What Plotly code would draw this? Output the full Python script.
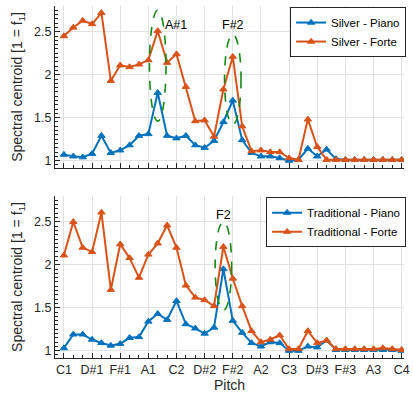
import plotly.graph_objects as go
from plotly.subplots import make_subplots

PITCHES = ["C1", "C#1", "D1", "D#1", "E1", "F1", "F#1", "G1", "G#1", "A1", "A#1", "B1",
           "C2", "C#2", "D2", "D#2", "E2", "F2", "F#2", "G2", "G#2", "A2", "A#2", "B2",
           "C3", "C#3", "D3", "D#3", "E3", "F3", "F#3", "G3", "G#3", "A3", "A#3", "B3",
           "C4"]

silver_piano = [1.07, 1.05, 1.04, 1.08, 1.29, 1.09, 1.12, 1.18, 1.29, 1.31, 1.79, 1.29,
                1.26, 1.29, 1.18, 1.15, 1.23, 1.45, 1.70, 1.24, 1.09, 1.05, 1.05, 1.03,
                1.00, 1.01, 1.14, 1.05, 1.13, 1.02, 1.01, 1.01, 1.01, 1.01, 1.01, 1.01,
                1.01]
silver_forte = [2.45, 2.55, 2.63, 2.59, 2.72, 1.93, 2.11, 2.09, 2.12, 2.17, 2.51, 2.14,
                2.24, 1.86, 1.46, 1.47, 1.28, 1.83, 2.21, 1.40, 1.11, 1.12, 1.10, 1.10,
                1.03, 1.01, 1.48, 1.16, 1.01, 1.01, 1.01, 1.01, 1.01, 1.01, 1.01, 1.01,
                1.01]
trad_piano = [1.03, 1.19, 1.19, 1.13, 1.09, 1.06, 1.08, 1.15, 1.16, 1.34, 1.43, 1.36,
              1.58, 1.31, 1.26, 1.20, 1.27, 1.95, 1.35, 1.21, 1.09, 1.05, 1.10, 1.09,
              1.00, 1.00, 1.05, 1.04, 1.12, 1.01, 1.01, 1.01, 1.01, 1.01, 1.01, 1.01,
              1.00]
trad_forte = [2.11, 2.50, 2.20, 2.15, 2.61, 1.71, 2.24, 2.08, 1.85, 2.12, 2.25, 2.46,
              2.20, 1.76, 1.62, 1.59, 1.52, 2.21, 1.84, 1.52, 1.23, 1.10, 1.13, 1.18,
              1.02, 1.02, 1.23, 1.09, 1.12, 1.02, 1.02, 1.02, 1.02, 1.02, 1.03, 1.02,
              1.01]

TICK_LABELS = ["C1", "D#1", "F#1", "A1", "C2", "D#2", "F#2", "A2", "C3", "D#3", "F#3", "A3", "C4"]
Y_TICKS = [1, 1.5, 2, 2.5]

# highlighted notes: (row, pitch, y_low, y_high, label, label_x_offset)
HIGHLIGHTS = [
    (1, "A#1", 1.46, 2.75, "A#1", 2.0),
    (1, "F#2", 1.42, 2.47, "F#2", 0.0),
    (2, "F2", 1.47, 2.50, "F2", 0.0),
]

BLUE = "#0072BD"
ORANGE = "#D95319"
GREEN = "#138a13"
AX = "#262626"
GRID = "#e2e2e2"
FONT = "Liberation Sans, Arial, sans-serif"

x = list(range(len(PITCHES)))
tickvals = [PITCHES.index(t) for t in TICK_LABELS]

fig = make_subplots(rows=2, cols=1, vertical_spacing=0.08)

series = [
    (1, "Silver - Piano", silver_piano, BLUE, "legend"),
    (1, "Silver - Forte", silver_forte, ORANGE, "legend"),
    (2, "Traditional - Piano", trad_piano, BLUE, "legend2"),
    (2, "Traditional - Forte", trad_forte, ORANGE, "legend2"),
]
for row, name, vals, col, leg in series:
    fig.add_trace(go.Scatter(
        x=x, y=vals, name=name, mode="lines+markers",
        line=dict(color=col, width=2),
        marker=dict(symbol="triangle-up", size=6.5, color=col,
                    line=dict(color=col, width=1)),
        legend=leg,
    ), row=row, col=1)

for row, pitch, ylo, yhi, label, dx in HIGHLIGHTS:
    xi = PITCHES.index(pitch)
    xr = "x" if row == 1 else "x2"
    yr = "y" if row == 1 else "y2"
    fig.add_shape(type="circle", xref=xr, yref=yr,
                  x0=xi - 0.88, x1=xi + 0.88, y0=ylo, y1=yhi,
                  line=dict(color=GREEN, width=1.6, dash="dash"))
    fig.add_annotation(xref=xr, yref=yr, x=xi + dx, y=2.58, text=label,
                       showarrow=False, font=dict(size=12.5, color="#000000", family=FONT))

axis_common = dict(
    showline=True, linecolor=AX, linewidth=1, mirror=False,
    ticks="inside", ticklen=5, tickcolor=AX, tickwidth=1,
    showgrid=True, gridcolor=GRID, gridwidth=1, zeroline=False,
    tickfont=dict(size=12.5, color=AX, family=FONT),
)

for r in (1, 2):
    fig.update_xaxes(
        range=[-0.95, 36.25], tickmode="array", tickvals=tickvals,
        ticktext=TICK_LABELS, showticklabels=(r == 2), ticklabeloverflow="allow",
        minor=dict(ticks="inside", ticklen=3, tickcolor=AX, dtick=1, tick0=0, showgrid=False),
        row=r, col=1, **axis_common)
    fig.update_yaxes(
        range=[0.915, 2.8], tickmode="array", tickvals=Y_TICKS,
        ticktext=["1", "1.5", "2", "2.5"],
        minor=dict(ticks="inside", ticklen=3, tickcolor=AX, dtick=0.05, tick0=0, showgrid=False),
        title=dict(text="Spectral centroid [1 = f<sub>1</sub>]", standoff=8,
                   font=dict(size=14, color=AX, family=FONT)),
        row=r, col=1, **axis_common)

fig.update_xaxes(title=dict(text="Pitch", standoff=4, font=dict(size=14, color=AX, family=FONT)),
                 row=2, col=1)

fig.update_layout(
    width=413, height=395,
    margin=dict(l=55, r=3, t=6, b=37),
    plot_bgcolor="white", paper_bgcolor="white",
    font=dict(family=FONT, color=AX),
    xaxis=dict(domain=[0, 1]), yaxis=dict(domain=[0.54, 1.0]),
    xaxis2=dict(domain=[0, 1]), yaxis2=dict(domain=[0.0, 0.46]),
    legend=dict(x=1.006, y=0.997, xanchor="right", yanchor="top",
                bgcolor="white", bordercolor=AX, borderwidth=1,
                font=dict(size=11.5, color="#000000", family=FONT),
                tracegroupgap=0, itemwidth=30),
    legend2=dict(x=1.006, y=0.457, xanchor="right", yanchor="top",
                 bgcolor="white", bordercolor=AX, borderwidth=1,
                 font=dict(size=11.5, color="#000000", family=FONT),
                 tracegroupgap=0, itemwidth=30),
    showlegend=True,
)

fig.write_html("out.html")
